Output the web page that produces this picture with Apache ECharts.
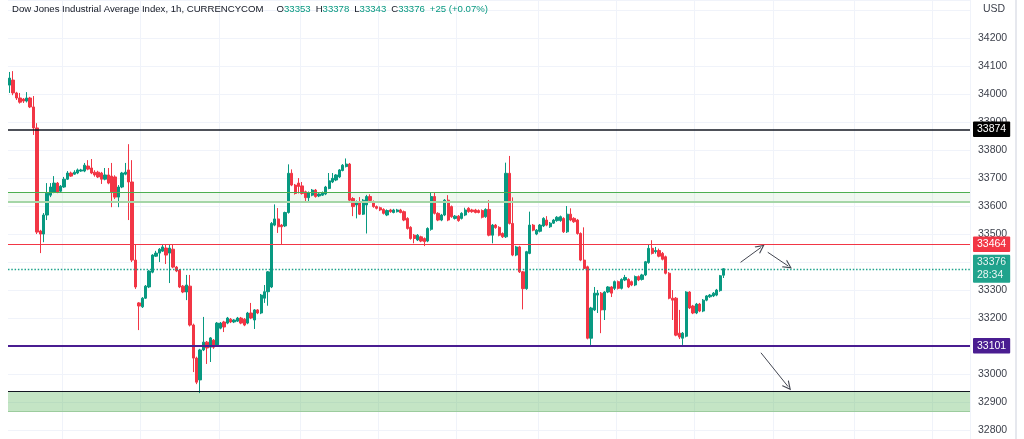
<!DOCTYPE html>
<html>
<head>
<meta charset="utf-8">
<script src="https://cdn.jsdelivr.net/npm/echarts@6/dist/echarts.min.js"></script>
<style>
html,body{margin:0;padding:0;background:#fff;}
#c{width:1024px;height:439px;}
</style>
</head>
<body>
<div id="c"></div>
<script>
// ---- data ----
// hourly candles: [open, close, low, high]
const ohlc = [
[34032,34057,34004,34079],[34050,34004,33996,34082],[34004,33986,33979,34008],[33986,33971,33966,34004],
[33982,33975,33968,33986],[33975,33986,33970,34007],[33986,33954,33950,33990],[33954,33879,33854,33993],
[33879,33507,33500,33896],[33511,33500,33432,33515],[33500,33568,33471,33575],[33568,33646,33550,33682],
[33639,33668,33632,33682],[33650,33682,33646,33707],[33682,33650,33646,33686],[33653,33671,33650,33675],
[33668,33696,33665,33704],[33696,33718,33693,33725],[33718,33707,33704,33723],[33714,33721,33712,33728],
[33718,33729,33714,33734],[33725,33729,33722,33733],[33725,33746,33721,33754],[33743,33732,33728,33764],
[33736,33718,33714,33768],[33721,33711,33705,33728],[33721,33704,33700,33726],[33718,33696,33679,33722],
[33696,33711,33692,33736],[33711,33682,33678,33736],[33707,33650,33596,33754],[33704,33632,33625,33710],
[33632,33668,33596,33675],[33668,33718,33664,33722],[33714,33721,33710,33754],[33729,33686,33550,33821],
[33686,33407,33400,33764],[33407,33311,33304,33464],[33254,33243,33157,33257],[33240,33271,33236,33275],
[33271,33314,33268,33318],[33311,33368,33307,33371],[33364,33425,33360,33428],[33421,33432,33418,33440],
[33432,33446,33400,33450],[33439,33454,33436,33461],[33450,33425,33393,33461],[33432,33450,33325,33461],
[33446,33382,33378,33461],[33382,33368,33364,33386],[33371,33311,33307,33375],[33314,33293,33289,33318],
[33293,33318,33264,33354],[33314,33175,33170,33354],[33175,33057,33007,33180],[33057,32971,32964,33062],
[32979,33086,32932,33090],[33086,33114,33082,33204],[33114,33093,33036,33118],[33096,33129,33043,33132],
[33121,33096,33090,33125],[33104,33182,33100,33186],[33164,33182,33160,33186],[33186,33168,33150,33190],
[33182,33200,33178,33204],[33196,33186,33182,33200],[33186,33193,33182,33196],[33189,33200,33186,33204],
[33200,33182,33178,33204],[33196,33175,33171,33200],[33182,33218,33178,33222],[33218,33200,33196,33254],
[33193,33229,33161,33232],[33229,33218,33214,33232],[33218,33282,33214,33286],[33271,33294,33254,33318],
[33294,33365,33244,33368],[33311,33538,33307,33543],[33532,33554,33528,33606],[33554,33526,33504,33593],
[33532,33526,33461,33536],[33529,33577,33525,33580],[33577,33717,33573,33749],[33717,33675,33671,33731],
[33675,33645,33641,33679],[33682,33670,33645,33700],[33672,33645,33641,33686],[33651,33630,33618,33655],
[33630,33648,33618,33652],[33639,33657,33635,33661],[33657,33634,33630,33661],[33636,33643,33632,33646],
[33639,33648,33636,33652],[33643,33668,33639,33672],[33663,33690,33660,33718],[33686,33699,33682,33718],
[33693,33711,33689,33714],[33704,33729,33700,33732],[33727,33746,33724,33750],[33741,33750,33738,33770],
[33750,33621,33618,33754],[33627,33598,33564,33632],[33604,33616,33556,33620],[33616,33571,33568,33632],
[33571,33621,33568,33625],[33604,33634,33502,33640],[33634,33620,33616,33642],[33616,33598,33594,33620],
[33598,33592,33588,33602],[33594,33586,33582,33598],[33588,33574,33570,33592],[33568,33584,33564,33588],
[33586,33580,33576,33590],[33577,33586,33574,33590],[33580,33586,33577,33590],[33586,33577,33574,33590],
[33580,33550,33546,33584],[33556,33520,33516,33560],[33524,33484,33480,33528],[33496,33484,33467,33500],
[33479,33496,33475,33500],[33490,33475,33471,33494],[33484,33473,33457,33488],[33475,33520,33471,33524],
[33517,33634,33512,33648],[33634,33574,33570,33648],[33574,33550,33546,33578],[33550,33568,33546,33572],
[33568,33621,33564,33625],[33621,33550,33546,33639],[33598,33562,33558,33602],[33556,33564,33552,33568],
[33564,33548,33544,33568],[33556,33574,33552,33578],[33568,33586,33564,33594],[33592,33580,33576,33596],
[33586,33580,33576,33590],[33586,33577,33574,33590],[33584,33577,33574,33588],[33584,33560,33556,33588],
[33562,33588,33558,33592],[33588,33496,33492,33621],[33496,33532,33467,33536],[33532,33523,33519,33536],
[33524,33496,33492,33528],[33502,33490,33486,33506],[33490,33717,33486,33755],[33717,33538,33534,33779],
[33538,33425,33421,33631],[33425,33454,33421,33458],[33454,33365,33361,33458],[33365,33305,33231,33368],
[33305,33437,33301,33440],[33431,33532,33428,33580],[33532,33514,33510,33536],[33500,33514,33496,33518],
[33510,33532,33506,33536],[33529,33556,33525,33560],[33550,33532,33528,33564],[33526,33539,33522,33543],
[33539,33550,33536,33554],[33548,33560,33544,33564],[33548,33562,33544,33566],[33556,33508,33504,33560],
[33508,33571,33504,33600],[33571,33550,33546,33592],[33556,33544,33540,33560],[33550,33502,33498,33554],
[33502,33407,33403,33506],[33407,33377,33373,33524],[33383,33128,33124,33387],[33128,33236,33104,33240],
[33229,33289,33225,33311],[33282,33289,33218,33300],[33289,33229,33146,33293],[33229,33293,33193,33296],
[33293,33311,33289,33314],[33311,33289,33275,33314],[33306,33330,33300,33334],[33330,33306,33302,33334],
[33306,33338,33302,33342],[33336,33345,33332,33354],[33338,33311,33307,33342],[33330,33318,33314,33334],
[33318,33348,33314,33352],[33348,33336,33332,33352],[33338,33354,33334,33358],[33354,33401,33350,33404],
[33398,33449,33394,33464],[33449,33431,33427,33478],[33437,33441,33430,33454],[33441,33421,33417,33448],
[33431,33410,33406,33436],[33419,33360,33356,33423],[33360,33271,33267,33364],[33271,33264,33193,33300],
[33271,33139,33135,33275],[33146,33132,33125,33229],[33128,33146,33104,33150],[33135,33293,33131,33296],
[33293,33236,33232,33296],[33243,33218,33214,33247],[33218,33250,33214,33254],[33250,33225,33221,33254],
[33225,33264,33221,33268],[33264,33279,33260,33282],[33276,33282,33272,33286],[33279,33289,33275,33293],
[33282,33300,33278,33304],[33298,33351,33294,33354],[33353,33376,33343,33378]
];
const totalSlots = 283;                     // hourly slots incl. empty future area
const dayBreaks = [16,39,62,86,109,132,156,179,202,225,249,272];
// visible price window and tick labels
const yRange = {min:32768, max:34336, step:100, firstShown:32800, lastShown:34200};
// horizontal levels
const tagLevels = [
  {value:33874, text:'33874', color:'#131722', bg:'#000000', width:1.5, type:'solid'},
  {value:33464, text:'33464', color:'#F23645', bg:'#F23645', width:1, type:'solid'},
  {value:33101, text:'33101', color:'#4A1D91', bg:'#4A1D91', width:2, type:'solid'}
];
const lastPrice = {value:33376, text:'33376\n28:34', color:'#089981'};
const zoneUpper = [33649, 33616];   // resistance band
const zoneLower = [32939, 32868];   // support box
// arrows: [fromSlot, fromPrice, toSlot, toPrice]
const arrows = [[215,33399,221,33452],[223,33435,229,33386],[221,33076,229,32955]];
const header = {name:'Dow Jones Industrial Average Index, 1h, CURRENCYCOM', o:'33353', h:'33378', l:'33343', c:'33376', chg:'+25 (+0.07%)'};

// ---- chart ----
const categories = [];
for (let i = 0; i < totalSlots; i++) categories.push('t' + i);

const UP = '#089981', DOWN = '#F23645';
const FONT = 'Liberation Sans, Arial, sans-serif';
const chart = echarts.init(document.getElementById('c'), null, {renderer:'canvas'});

function tagLabel(text, bg) {
  return {show:true, position:'end', distance:3, formatter: text, color:'#fff',
          backgroundColor: bg, padding:[2,4,1,4], fontSize:10.5, lineHeight:12.5,
          fontFamily: FONT, borderRadius:1};
}
const levelLines = tagLevels.map(l => ({
  yAxis: l.value,
  lineStyle: {color: l.color, width: l.width, type: l.type},
  label: tagLabel(l.text, l.bg)
}));
const extraLines = [
  {yAxis: zoneUpper[0], lineStyle:{color:'#4CAF50', width:1, type:'solid'}, label:{show:false}},
  {yAxis: zoneUpper[1], lineStyle:{color:'#A5D6A7', width:2, type:'solid'}, label:{show:false}},
  {yAxis: zoneLower[0], lineStyle:{color:'#131722', width:1, type:'solid'}, label:{show:false}},
  {yAxis: zoneLower[1], lineStyle:{color:'#9CCC9E', width:1, type:'solid'}, label:{show:false}}
];
// open chevron arrow head (tip at top)
const chevron = 'path://M0,10 L5,0 L10,10 L8.6,10 L5,2.8 L1.4,10 Z';

const option = {
  animation: false,
  backgroundColor: '#ffffff',
  grid: {left: 8, right: 54, top: 0, bottom: 0, containLabel: false},
  xAxis: {
    type: 'category', data: categories, boundaryGap: true,
    axisLine: {show:false}, axisTick: {show:false}, axisLabel: {show:false},
    splitLine: {show:true, interval: (i) => dayBreaks.indexOf(i) >= 0, lineStyle:{color:'#f0f3fa', width:1}}
  },
  yAxis: {
    type: 'value', position: 'right',
    min: yRange.min, max: yRange.max,
    minInterval: yRange.step, maxInterval: yRange.step, splitNumber: 15,
    axisLine: {show:false}, axisTick: {show:false},
    axisLabel: {
      margin: 8, color: '#3b3f4a', fontSize: 10.5, fontFamily: FONT,
      showMinLabel: false, showMaxLabel: false,
      formatter: v => (v % yRange.step === 0 && v >= yRange.firstShown && v <= yRange.lastShown) ? String(v) : ''
    },
    splitLine: {show:true, lineStyle:{color:'#f0f3fa', width:1}}
  },
  series: [
    {
      type: 'candlestick',
      data: ohlc,
      clip: false,
      barWidth: 2.8,
      itemStyle: {color: UP, color0: DOWN, borderColor: UP, borderColor0: DOWN, borderWidth: 1},
      markArea: {
        silent: true,
        data: [
          [{yAxis: zoneUpper[0], itemStyle:{color:'rgba(76,175,80,0.09)'}}, {yAxis: zoneUpper[1]}],
          [{yAxis: zoneLower[0], itemStyle:{color:'rgba(76,175,80,0.33)'}}, {yAxis: zoneLower[1]}]
        ]
      },
      markLine: {
        silent: true, symbol: ['none','none'], animation:false,
        data: extraLines.concat(levelLines)
      }
    },
    {
      type: 'line', data: [], silent: true, color: lastPrice.color,
      markLine: {
        silent: true, symbol: ['none','none'], animation:false,
        lineStyle: {color: lastPrice.color, width: 1.3, type: [1.5, 1.8], opacity: 0.9},
        itemStyle: {color: lastPrice.color},
        data: [{yAxis: lastPrice.value, label: tagLabel(lastPrice.text, lastPrice.color)}]
      }
    },
    {
      type: 'line', data: [], silent: true, color: '#434651',
      markLine: {
        silent: true, symbol: ['none', chevron], symbolSize: 9, animation:false,
        lineStyle: {color:'#434651', width:1, type:'solid'},
        itemStyle: {color:'#434651'},
        label: {show:false},
        data: arrows.map(a => [{coord:[a[0], a[1]]}, {coord:[a[2], a[3]]}])
      }
    }
  ],
  graphic: [
    {
      type:'text', left: 12, top: 4, z: 10,
      style: {
        text: '{t|' + header.name + '}{g1| }{t|O}{v|' + header.o + '}{g| }{t|H}{v|' + header.h +
              '}{g| }{t|L}{v|' + header.l + '}{g| }{t|C}{v|' + header.c + '}{g| }{v|' + header.chg + '}',
        rich: {
          t: {fill:'#131722', fontSize:9.6, fontFamily: FONT},
          v: {fill:UP, fontSize:9.6, fontFamily: FONT},
          g1: {width:13, fontSize:9.6},
          g: {width:5, fontSize:9.6}
        }
      }
    },
    {type:'text', left: 983, top: 4, z: 10,
     style:{text:'USD', fill:'#3b3f4a', fontSize:10.5, fontFamily: FONT}},
    {type:'rect', left: 1015, top: 0, z: 1, shape:{width:2, height:439}, style:{fill:'#e6e8ee'}}
  ]
};
chart.setOption(option);
</script>
</body>
</html>
